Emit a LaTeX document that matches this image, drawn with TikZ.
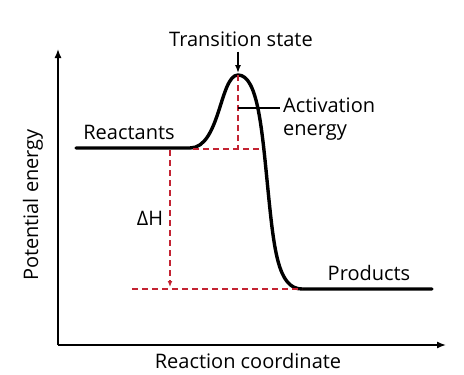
\documentclass[tikz,border=0pt]{standalone}
\usepackage{fontspec}
\setmainfont{Open Sans}
\usetikzlibrary{arrows.meta}
\definecolor{dred}{RGB}{195,35,50}
\begin{document}
\begin{tikzpicture}[x=1pt,y=-1pt,
  lbl/.style={inner sep=0pt,font=\fontsize{20}{23}\selectfont},
  axis/.style={line width=1.4pt,-{Latex[length=9pt,width=7pt]}},
  curve/.style={line width=3.4pt,line cap=round,line join=round},
  guide/.style={dred,line width=1.3pt,dash pattern=on 6pt off 4pt},
  leader/.style={line width=1.4pt}]
\useasboundingbox (0,0) rectangle (464,375);
% axes
\coordinate (O) at (58,345);
\coordinate (ytip) at (58,49);
\coordinate (xtip) at (446,345);
\draw[axis] (O) -- (ytip);
\draw[axis] (O) -- (xtip);
\node[lbl,rotate=90] (ylab) at (33,205) {Potential energy};
\node[lbl] (xlab) at (248,361) {Reaction coordinate};
% key points
\coordinate (rstart) at (76,148);
\coordinate (rend) at (190,148);
\coordinate (peak) at (238,75);
\coordinate (pstart) at (302,289);
\coordinate (pend) at (432,289);
% energy curve
\draw[curve] (rstart) -- (rend) .. controls (220,148) and (220,75) .. (peak)
  .. controls (258,75) and (262,130) .. (268,190)
  .. controls (274,250) and (278,289) .. (pstart) -- (pend);
% guides
\coordinate (abase) at (238,149);
\coordinate (hl) at (193,149);
\coordinate (hr) at (263,149);
\draw[guide] (hl) -- (hr);
\draw[guide] (peak) -- (abase);
\coordinate (dtop) at (170,150);
\coordinate (dbot) at (170,287);
\draw[guide,-{Latex[length=6pt,width=5pt]}] (dtop) -- (dbot);
\coordinate (bl) at (132,289);
\draw[guide] (bl) -- (pstart);
% labels
\node[lbl] (ts) at (241,39) {Transition state};
\coordinate (tsarrow) at (238,73);
\draw[leader,-{Latex[length=8pt,width=6pt]}] (ts.south -| tsarrow) ++(0,5) -- (tsarrow);
\node[lbl,anchor=west,align=left] (act) at (283,119) {Activation\\energy};
\coordinate (lstart) at (238,108);
\draw[leader] (lstart) -- ([xshift=-3pt]act.west |- lstart);
\node[lbl] (react) at (129,132) {Reactants};
\node[lbl] (prod) at (369,273) {Products};
\node[lbl] (dh) at (150,218) {ΔH};
\end{tikzpicture}
\end{document}
